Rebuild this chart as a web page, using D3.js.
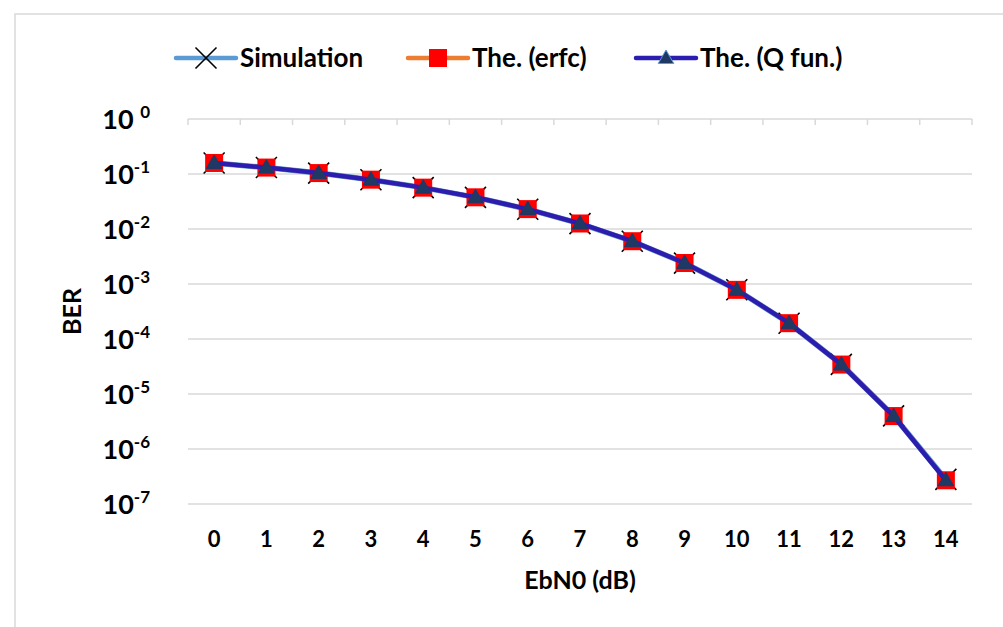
<!DOCTYPE html>
<html>
<head>
<meta charset="utf-8">
<script src="https://cdn.jsdelivr.net/npm/d3@7"></script>
<style>
  body { margin: 0; background: #fff; }
  svg text { font-family: Lato, "Open Sans", sans-serif; font-weight: bold; fill: #000; }
</style>
</head>
<body>
<div id="chart"></div>
<script>
// EbN0 categories (dB)
var ebn0 = [0, 1, 2, 3, 4, 5, 6, 7, 8, 9, 10, 11, 12, 13, 14];

// BER values
var berSim  = [0.1586, 0.1310, 0.1038, 0.0788, 0.0566, 0.0376, 0.0229, 0.0125, 0.0060, 0.00240, 0.000785, 0.000193, 0.0000345, 0.0000040, 0.00000028];
var berErfc = [0.1587, 0.1309, 0.1040, 0.0789, 0.0565, 0.0377, 0.0230, 0.0126, 0.0060, 0.00241, 0.000783, 0.000194, 0.0000343, 0.00000397, 0.000000270];
var berQ    = [0.1587, 0.1309, 0.1040, 0.0789, 0.0565, 0.0377, 0.0230, 0.0126, 0.0060, 0.00241, 0.000783, 0.000194, 0.0000343, 0.00000397, 0.000000270];

var yExponents = [0, -1, -2, -3, -4, -5, -6, -7];
var legendNames = ["Simulation", "The. (erfc)", "The. (Q fun.)"];

var W = 1003, H = 627;
var plot = { left: 188, right: 972, top: 119, bottom: 504 };

var svg = d3.select("#chart")
    .append("svg")
    .attr("width", W)
    .attr("height", H);

// Outer chart frame
svg.append("rect")
    .attr("x", 15).attr("y", 14)
    .attr("width", 1000).attr("height", 640)
    .attr("fill", "none")
    .attr("stroke", "#d9d9d9")
    .attr("stroke-width", 1.5);

var x = d3.scaleBand()
    .domain(ebn0)
    .range([plot.left, plot.right]);

var y = d3.scaleLog()
    .domain([1e-7, 1])
    .range([plot.bottom, plot.top]);

// Horizontal gridlines
svg.append("g")
    .selectAll("line")
    .data(yExponents)
    .enter().append("line")
    .attr("x1", plot.left).attr("x2", plot.right)
    .attr("y1", function (d) { return y(Math.pow(10, d)); })
    .attr("y2", function (d) { return y(Math.pow(10, d)); })
    .attr("stroke", "#d9d9d9")
    .attr("stroke-width", 1.5);

// Category ticks hanging from the top axis line
var boundaries = ebn0.map(function (d) { return x(d); }).concat([plot.right]);
svg.append("g")
    .selectAll("line")
    .data(boundaries)
    .enter().append("line")
    .attr("x1", function (d) { return d; }).attr("x2", function (d) { return d; })
    .attr("y1", plot.top).attr("y2", plot.top + 6)
    .attr("stroke", "#d9d9d9")
    .attr("stroke-width", 1.5);

// Y tick labels: 10 with superscript exponent
var ylab = svg.append("g")
    .selectAll("text")
    .data(yExponents)
    .enter().append("text")
    .attr("x", 150)
    .attr("y", function (d) { return y(Math.pow(10, d)) + 10; })
    .attr("text-anchor", "end")
    .style("font-size", "27px");
ylab.append("tspan").text(function (d) { return d === 0 ? "10 " : "10"; });
ylab.append("tspan")
    .attr("dy", -11)
    .style("font-size", "17px")
    .text(function (d) { return d; });

// X tick labels
svg.append("g")
    .selectAll("text")
    .data(ebn0)
    .enter().append("text")
    .attr("x", function (d) { return x(d) + x.bandwidth() / 2; })
    .attr("y", 547)
    .attr("text-anchor", "middle")
    .style("font-size", "22px")
    .text(function (d) { return d; });

// Axis titles
svg.append("text")
    .attr("x", (plot.left + plot.right) / 2)
    .attr("y", 589)
    .attr("text-anchor", "middle")
    .style("font-size", "25px")
    .text("EbN0 (dB)");

svg.append("text")
    .attr("transform", "translate(81," + (plot.top + plot.bottom) / 2 + ") rotate(-90)")
    .attr("text-anchor", "middle")
    .style("font-size", "25px")
    .text("BER");

var cx = function (d, i) { return x(ebn0[i]) + x.bandwidth() / 2; };
var line = d3.line()
    .x(function (d, i) { return x(ebn0[i]) + x.bandwidth() / 2; })
    .y(function (d) { return y(d); });

// Drawing helpers for the three marker types
function drawCross(g, px, py) {
    var s = 10.5;
    g.append("path")
        .attr("d", "M" + (px - s) + "," + (py - s) + "L" + (px + s) + "," + (py + s) +
                   "M" + (px - s) + "," + (py + s) + "L" + (px + s) + "," + (py - s))
        .attr("stroke", "#000")
        .attr("stroke-width", 1.6);
}
function drawSquare(g, px, py) {
    g.append("rect")
        .attr("x", px - 9).attr("y", py - 9)
        .attr("width", 18).attr("height", 18)
        .attr("fill", "#ff0000");
}
function drawTriangle(g, px, py, edge) {
    g.append("path")
        .attr("d", d3.symbol().type(d3.symbolTriangle).size(105)())
        .attr("transform", "translate(" + px + "," + (py + 1) + ")")
        .attr("fill", "#1f3864")
        .attr("stroke", edge || "#1f3864")
        .attr("stroke-width", 1);
}

// Simulation series
var gSim = svg.append("g");
gSim.append("path")
    .attr("d", line(berSim))
    .attr("fill", "none")
    .attr("stroke", "#5b9bd5")
    .attr("stroke-width", 5.5);
berSim.forEach(function (d, i) { drawCross(gSim, cx(d, i), y(d)); });

// erfc series
var gErfc = svg.append("g");
gErfc.append("path")
    .attr("d", line(berErfc))
    .attr("fill", "none")
    .attr("stroke", "#ed7d31")
    .attr("stroke-width", 4);
berErfc.forEach(function (d, i) { drawSquare(gErfc, cx(d, i), y(d)); });

// Q function series
var gQ = svg.append("g");
gQ.append("path")
    .attr("d", line(berQ))
    .attr("fill", "none")
    .attr("stroke", "#2a1db0")
    .attr("stroke-width", 4.5);
berQ.forEach(function (d, i) { drawTriangle(gQ, cx(d, i), y(d)); });

// Legend
var legY = 58;
var legItems = [
    { x0: 176, x1: 236, name: legendNames[0], color: "#5b9bd5", draw: drawCross },
    { x0: 408, x1: 468, name: legendNames[1], color: "#ed7d31", draw: drawSquare },
    { x0: 636, x1: 696, name: legendNames[2], color: "#2a1db0", draw: drawTriangle }
];
var leg = svg.append("g");
legItems.forEach(function (it, i) {
    leg.append("line")
        .attr("x1", it.x0).attr("x2", it.x1)
        .attr("y1", legY).attr("y2", legY)
        .attr("stroke", it.color)
        .attr("stroke-width", 4.5)
        .attr("stroke-linecap", "round");
    if (i === 2) drawTriangle(leg, (it.x0 + it.x1) / 2, legY, "#5b9bd5");
    else it.draw(leg, (it.x0 + it.x1) / 2, legY);
    leg.append("text")
        .attr("x", it.x1 + 4)
        .attr("y", legY + 9)
        .style("font-size", "26px")
        .text(it.name);
});
</script>
</body>
</html>
